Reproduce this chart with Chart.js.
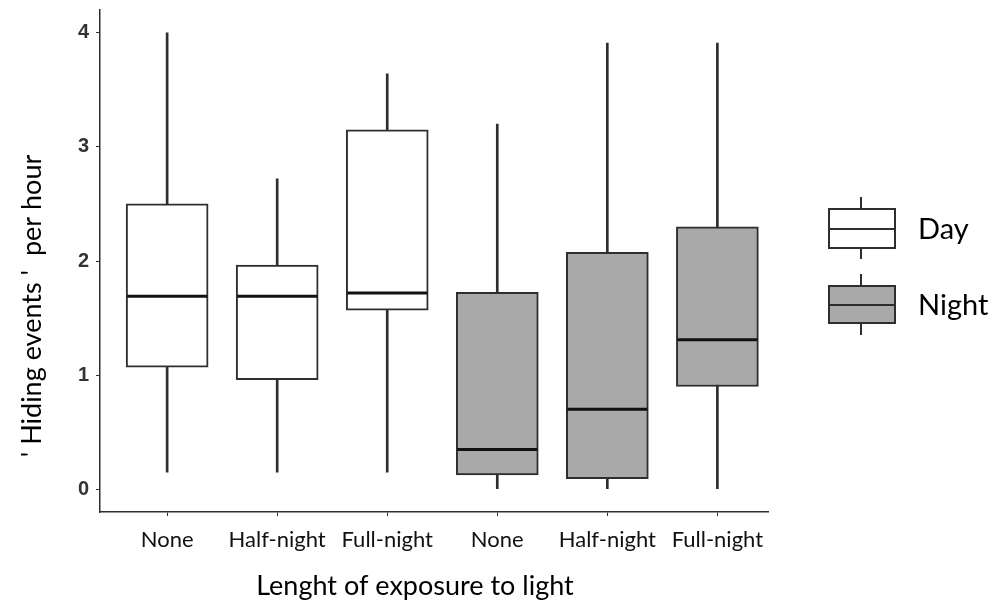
<!DOCTYPE html>
<html><head><meta charset="utf-8">
<script src="https://cdn.jsdelivr.net/npm/chart.js@4"></script>
<style>html,body{margin:0;padding:0;background:#fff}#wrap{width:993px;height:602px}</style>
</head><body><div id="wrap"><canvas id="c" width="993" height="602"></canvas></div>
<script>
// ---- data ----
const categories = ['None', 'Half-night', 'Full-night', 'None', 'Half-night', 'Full-night'];
const groups = ['Day', 'Night'];
const dayPos = [1, 2, 3];
const nightPos = [4, 5, 6];
const dayLow = [0.15, 0.15, 0.15];
const dayQ1 = [1.07, 0.96, 1.57];
const dayMedian = [1.69, 1.69, 1.72];
const dayQ3 = [2.50, 1.965, 3.15];
const dayHigh = [4.0, 2.72, 3.64];
const nightLow = [0, 0, 0];
const nightQ1 = [0.125, 0.093, 0.90];
const nightMedian = [0.347, 0.70, 1.31];
const nightQ3 = [1.725, 2.075, 2.30];
const nightHigh = [3.20, 3.91, 3.91];
const yTicks = [0, 1, 2, 3, 4];
const xTitle = 'Lenght of exposure to light';
const yTitle = "' Hiding events '  per hour";

const DAY_FILL = '#ffffff', NIGHT_FILL = '#a9a9a9', LINE = '#2e2e2e';

const pts = (pos, a, b) => pos.map((p, i) => ({x: p, y: [a[i], b[i]]}));

const overlay = {
  id: 'overlay',
  afterDatasetsDraw(chart) {
    const ctx = chart.ctx, ys = chart.scales.y;
    [[2, dayMedian], [3, nightMedian]].forEach(([di, med]) => {
      chart.getDatasetMeta(di).data.forEach((el, i) => {
        const py = ys.getPixelForValue(med[i]);
        ctx.save();
        ctx.strokeStyle = '#111'; ctx.lineWidth = 3;
        ctx.beginPath();
        ctx.moveTo(el.x - el.width / 2 + 1, py);
        ctx.lineTo(el.x + el.width / 2 - 1, py);
        ctx.stroke();
        ctx.restore();
      });
    });
  },
  afterDraw(chart) {
    const ctx = chart.ctx;
    ctx.save();
    ctx.fillStyle = '#000';
    ctx.font = '27px Lato';
    ctx.textAlign = 'center'; ctx.textBaseline = 'middle';
    ctx.fillText(xTitle, 415, 586);
    ctx.translate(32, 306); ctx.rotate(-Math.PI / 2);
    ctx.fillText(yTitle, 0, 0);
    ctx.restore();
    // legend
    const items = [[groups[0], DAY_FILL, 197, 209, 229, 248, 259], [groups[1], NIGHT_FILL, 274, 286, 305, 323, 335]];
    items.forEach(([label, fill, wt, bt, md, bb, wb]) => {
      ctx.save();
      ctx.strokeStyle = LINE; ctx.lineWidth = 2;
      ctx.beginPath(); ctx.moveTo(861, wt); ctx.lineTo(861, wb); ctx.stroke();
      ctx.fillStyle = fill;
      ctx.fillRect(829, bt, 66, bb - bt);
      ctx.strokeRect(829, bt, 66, bb - bt);
      ctx.beginPath(); ctx.moveTo(829, md); ctx.lineTo(895, md); ctx.stroke();
      ctx.fillStyle = '#000'; ctx.font = '29px Lato';
      ctx.textAlign = 'left'; ctx.textBaseline = 'middle';
      ctx.fillText(label, 918, (bt + bb) / 2 + 1);
      ctx.restore();
    });
  }
};

new Chart(document.getElementById('c'), {
  type: 'bar',
  data: {
    datasets: [
      {label: 'Day whiskers', data: pts(dayPos, dayLow, dayHigh), backgroundColor: LINE, barThickness: 2, grouped: false, order: 3},
      {label: 'Night whiskers', data: pts(nightPos, nightLow, nightHigh), backgroundColor: LINE, barThickness: 2, grouped: false, order: 3},
      {label: groups[0], data: pts(dayPos, dayQ1, dayQ3), backgroundColor: DAY_FILL, borderColor: LINE, borderWidth: 2, borderSkipped: false, barThickness: 82, grouped: false, order: 1},
      {label: groups[1], data: pts(nightPos, nightQ1, nightQ3), backgroundColor: NIGHT_FILL, borderColor: LINE, borderWidth: 2, borderSkipped: false, barThickness: 82, grouped: false, order: 1}
    ]
  },
  options: {
    responsive: false,
    animation: false,
    devicePixelRatio: 1,
    layout: {padding: {top: 10, right: 225, bottom: 0, left: 0}},
    plugins: {legend: {display: false}, tooltip: {enabled: false}},
    scales: {
      x: {
        type: 'linear', min: 0.39, max: 6.46, offset: false,
        afterBuildTicks: s => { s.ticks = [...dayPos, ...nightPos].map(v => ({value: v})); },
        afterFit: s => { s.height = 90; s.paddingLeft = 0; s.paddingRight = 0; },
        grid: {drawOnChartArea: false, offset: false, tickLength: 4, color: LINE},
        border: {color: LINE, width: 1.5},
        ticks: {padding: 11, color: '#111', font: {family: 'Lato', size: 22}, autoSkip: false, maxRotation: 0,
          callback: v => categories[v - 1]}
      },
      y: {
        type: 'linear', min: -0.2, max: 4.2,
        afterBuildTicks: s => { s.ticks = yTicks.map(v => ({value: v})); },
        afterFit: s => { s.width = 100; s.paddingTop = 0; s.paddingBottom = 0; },
        grid: {drawOnChartArea: false, tickLength: 4, color: LINE},
        border: {color: LINE, width: 1.5},
        ticks: {padding: 7, color: '#333', font: {family: 'Liberation Sans', size: 20, weight: 'bold'}}
      }
    }
  },
  plugins: [overlay]
});
</script></body></html>
